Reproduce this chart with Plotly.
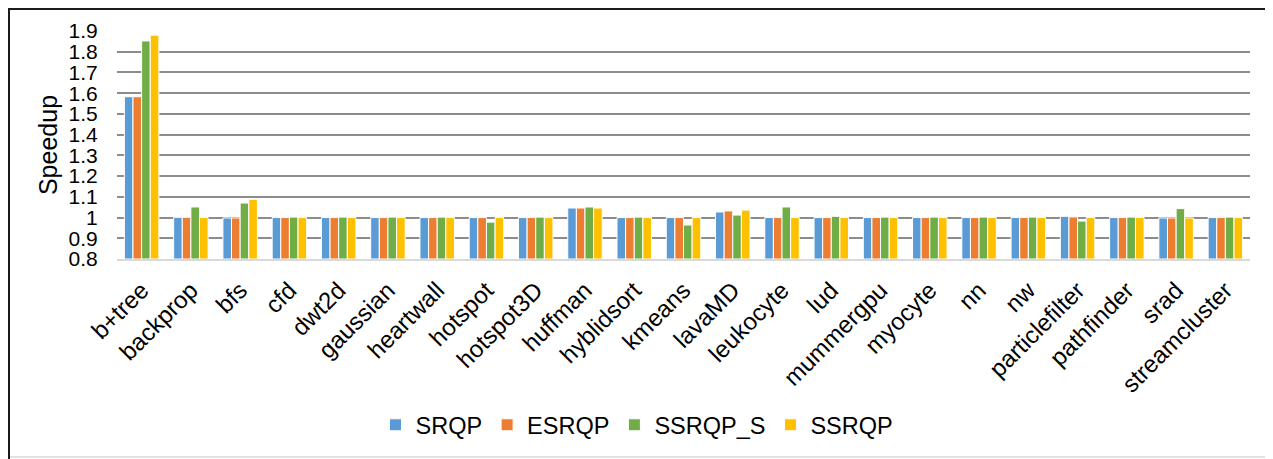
import plotly.graph_objects as go

categories = ["b+tree", "backprop", "bfs", "cfd", "dwt2d", "gaussian", "heartwall",
              "hotspot", "hotspot3D", "huffman", "hyblidsort", "kmeans", "lavaMD",
              "leukocyte", "lud", "mummergpu", "myocyte", "nn", "nw",
              "particlefilter", "pathfinder", "srad", "streamcluster"]

srqp = [1.583, 1.001, 0.998, 1.0, 1.0, 1.0, 1.0, 1.0, 1.0, 1.046, 1.0, 1.0, 1.027,
        1.0, 1.0, 1.0, 1.0, 1.0, 1.0, 1.006, 1.0, 0.998, 1.0]
esrqp = [1.583, 1.001, 0.998, 1.0, 1.0, 1.0, 1.0, 1.0, 1.0, 1.046, 1.0, 1.0, 1.032,
         1.0, 1.0, 1.0, 1.0, 1.0, 1.0, 1.003, 1.0, 0.998, 1.0]
ssrqp_s = [1.852, 1.051, 1.07, 1.002, 1.002, 1.002, 1.002, 0.978, 1.002, 1.051, 1.002,
           0.964, 1.012, 1.051, 1.006, 1.002, 1.002, 1.002, 1.002, 0.983, 1.002, 1.043, 1.002]
ssrqp = [1.88, 1.0, 1.088, 1.0, 1.0, 1.0, 1.0, 1.0, 1.0, 1.046, 1.0, 1.0, 1.036,
         1.0, 1.0, 1.0, 1.0, 1.0, 1.0, 1.0, 1.0, 0.998, 1.0]

series_names = ["SRQP", "ESRQP", "SSRQP_S", "SSRQP"]
series_values = [srqp, esrqp, ssrqp_s, ssrqp]
colors = ["#5b9bd5", "#ed7d31", "#70ad47", "#ffc000"]

y_ticks = [0.8, 0.9, 1.0, 1.1, 1.2, 1.3, 1.4, 1.5, 1.6, 1.7, 1.8, 1.9]
y_tick_labels = ["0.8", "0.9", "1", "1.1", "1.2", "1.3", "1.4", "1.5", "1.6", "1.7", "1.8", "1.9"]

FONT = "Liberation Sans, Arial, Helvetica, sans-serif"

fig = go.Figure()
for name, vals, col in zip(series_names, series_values, colors):
    fig.add_trace(go.Bar(
        x=categories, y=[v - 0.8 for v in vals], base=0.8, name=name,
        marker=dict(color=col, line=dict(color="white", width=1)),
    ))

# page has an 8px body margin; figure coordinates = page coordinates - 8
OFF = 8
W, H = 1273 - OFF, 459 - OFF
L, T = 117 - OFF, 31 - OFF
R = W - (1250 - OFF)
B = H - (259 - OFF)
pw, ph = W - L - R, H - T - B

def px_x(xpage):
    return (xpage - OFF - L) / pw

def px_y(ypage):
    return (H - B - (ypage - OFF)) / ph

fig.update_layout(
    width=W, height=H,
    margin=dict(l=L, r=R, t=T, b=B, autoexpand=False),
    paper_bgcolor="white", plot_bgcolor="white",
    barmode="group", bargap=0.3, bargroupgap=0.0,
    font=dict(family=FONT, color="#000000"),
    showlegend=True,
    legend=dict(orientation="h", x=px_x(637), xanchor="center",
                y=px_y(425), yanchor="middle",
                font=dict(size=23.5, family=FONT), itemwidth=30,
                bgcolor="rgba(0,0,0,0)"),
    xaxis=dict(tickangle=-45, tickfont=dict(size=24, family=FONT),
               showgrid=False, showline=True, linecolor="#d9d9d9", linewidth=1.5,
               ticks="outside", ticklen=6, tickcolor="rgba(0,0,0,0)"),
    yaxis=dict(range=[0.8, 1.9], tickvals=y_ticks, ticktext=y_tick_labels,
               tickfont=dict(size=21, family=FONT),
               showgrid=True, gridcolor="#8c8c8c", gridwidth=1.5,
               zeroline=False, showline=False,
               ticks="outside", ticklen=14, tickcolor="rgba(0,0,0,0)",
               title=dict(text="Speedup", font=dict(size=25, family=FONT), standoff=3)),
    shapes=[
        dict(type="line", xref="paper", yref="paper", x0=px_x(8), x1=px_x(1272),
             y0=px_y(9), y1=px_y(9), line=dict(color="#1a1a1a", width=2)),
        dict(type="line", xref="paper", yref="paper", x0=px_x(9), x1=px_x(9),
             y0=px_y(8), y1=px_y(459), line=dict(color="#1a1a1a", width=2)),
        dict(type="line", xref="paper", yref="paper", x0=px_x(1271), x1=px_x(1271),
             y0=px_y(10), y1=px_y(458), line=dict(color="#d9d9d9", width=1.5)),
        dict(type="line", xref="paper", yref="paper", x0=px_x(10), x1=px_x(1271),
             y0=px_y(457), y1=px_y(457), line=dict(color="#d9d9d9", width=1.5)),
    ],
)

fig.write_html("out.html")
